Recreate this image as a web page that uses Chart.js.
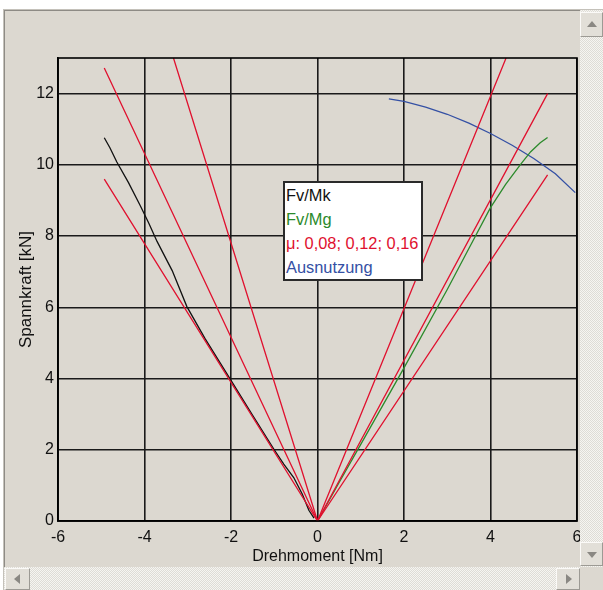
<!DOCTYPE html>
<html><head><meta charset="utf-8">
<script src="https://cdn.jsdelivr.net/npm/chart.js@4"></script>
<style>
html,body{margin:0;padding:0;background:#fff;width:603px;height:590px;overflow:hidden;font-family:"Liberation Sans",Arial,sans-serif;}
#win{position:absolute;left:3px;top:9px;width:610px;height:600px;background:#dcd8d0;border-left:1px solid #c4c1ba;border-top:1px solid #c4c1ba;box-shadow:inset 1px 1px 0 #8e8b85;box-sizing:border-box}
#cv{position:absolute;left:0;top:0}
#legend{position:absolute;left:283px;top:181px;width:140px;height:100px;box-sizing:border-box;border:2px solid #2a2a2a;background:#fff;font-size:16.4px;line-height:24px;padding:0 0 0 1px;white-space:nowrap}
.track{position:absolute;background:repeating-conic-gradient(#f6f5f1 0 25%,#dedcd6 0 50%) 0 0/2px 2px}
.btn{position:absolute;background:#e2dfd8;box-sizing:border-box;border:1px solid;border-color:#fbfaf8 #9c9a94 #9c9a94 #fbfaf8}
.tri{position:absolute;width:0;height:0}
</style></head>
<body>
<div id="win"></div>
<canvas id="cv" width="603" height="590"></canvas>
<div id="legend">
  <div style="color:#111">Fv/Mk</div>
  <div style="color:#2b8a2b">Fv/Mg</div>
  <div style="color:#e0102e">μ: 0,08; 0,12; 0,16</div>
  <div style="color:#3450a4">Ausnutzung</div>
</div>
<div class="track" style="left:580px;top:10px;width:23px;height:557px"></div>
<div class="btn" style="left:580px;top:12px;width:23px;height:25px"><div class="tri" style="left:6px;top:8px;border-left:5px solid transparent;border-right:5px solid transparent;border-bottom:6px solid #8a8883"></div></div>
<div class="btn" style="left:580px;top:542px;width:23px;height:24px"><div class="tri" style="left:6px;top:9px;border-left:5px solid transparent;border-right:5px solid transparent;border-top:6px solid #8a8883"></div></div>
<div class="track" style="left:4px;top:567px;width:576px;height:23px"></div>
<div class="btn" style="left:5px;top:568px;width:25px;height:22px"><div class="tri" style="left:8px;top:5px;border-top:5px solid transparent;border-bottom:5px solid transparent;border-right:6px solid #8a8883"></div></div>
<div class="btn" style="left:556px;top:568px;width:24px;height:22px"><div class="tri" style="left:9px;top:5px;border-top:5px solid transparent;border-bottom:5px solid transparent;border-left:6px solid #8a8883"></div></div>
<div style="position:absolute;left:580px;top:567px;width:23px;height:23px;background:#dcd8d0"></div>
<script>
// ---- data ----
const xTicks = [-6, -4, -2, 0, 2, 4, 6];
const yTicks = [0, 2, 4, 6, 8, 10, 12];
const xTitle = 'Drehmoment [Nm]';
const yTitle = 'Spannkraft [kN]';

// μ lines (V shapes): left = Mk side, right = Mg side
const mu008 = [[-3.33, 13.0], [0, 0], [4.36, 13.0]];
const mu012 = [[-4.93, 12.72], [0, 0], [5.32, 12.0]];
const mu016 = [[-4.93, 9.6], [0, 0], [5.32, 9.72]];

const fvMk = [[-4.93, 10.76], [-4.8, 10.48], [-4.64, 10.08], [-4.37, 9.5], [-4.1, 8.86], [-3.9, 8.36],
  [-3.71, 7.85], [-3.36, 7.03], [-3.02, 6.02], [-2.6, 5.12], [-2.0, 3.95], [-1.5, 2.97], [-1.0, 2.0],
  [-0.78, 1.6], [-0.55, 1.22], [-0.35, 0.75], [-0.2, 0.3], [-0.08, 0.08]];

const fvMg = [[0, 0], [0.5, 1.08], [1.0, 2.15], [2.0, 4.3], [3.0, 6.5], [3.5, 7.65], [4.0, 8.8],
  [4.35, 9.45], [4.7, 10.02], [4.93, 10.37], [5.15, 10.62], [5.32, 10.77]];

const ausnutzung = [[1.65, 11.85], [2.0, 11.78], [2.5, 11.62], [3.0, 11.42], [3.5, 11.17], [4.0, 10.88],
  [4.5, 10.55], [5.0, 10.18], [5.5, 9.75], [5.96, 9.22]];

const RED = '#e0102e', GREEN = '#2b8a2b', BLUE = '#3450a4', BLACK = '#111111';
const toPts = a => a.map(p => ({x: p[0], y: p[1]}));
const line = (d, c) => ({data: toPts(d), borderColor: c, borderWidth: 1.3, pointRadius: 0, showLine: true, fill: false, tension: 0});

const frame = {
  id: 'frame',
  afterDraw(chart) {
    const {ctx, chartArea: a} = chart;
    ctx.save();
    ctx.strokeStyle = '#000';
    ctx.lineWidth = 1.6;
    ctx.strokeRect(a.left, a.top, a.right - a.left, a.bottom - a.top);
    ctx.restore();
  }
};

new Chart(document.getElementById('cv'), {
  type: 'scatter',
  data: {
    datasets: [
      line(mu008, RED), line(mu012, RED), line(mu016, RED),
      line(fvMk, BLACK), line(fvMg, GREEN), line(ausnutzung, BLUE)
    ]
  },
  options: {
    responsive: false,
    animation: false,
    devicePixelRatio: 1,
    layout: {padding: {left: 0, top: 58, right: 26, bottom: 24}},
    plugins: {legend: {display: false}, tooltip: {enabled: false}},
    scales: {
      x: {
        type: 'linear', min: -6, max: 6,
        afterBuildTicks: s => { s.ticks = xTicks.map(v => ({value: v})); },
        afterFit: s => { s.height = 45; },
        grid: {color: '#1a1a1a', lineWidth: 1.6, drawTicks: false},
        border: {display: true, color: '#000', width: 1.6},
        ticks: {color: '#111', font: {family: 'Liberation Sans', size: 16}, padding: 7, maxRotation: 0, autoSkip: false},
        title: {display: true, text: xTitle, color: '#111', font: {family: 'Liberation Sans', size: 16}, padding: {top: 0, bottom: 0}}
      },
      y: {
        type: 'linear', min: 0, max: 13,
        afterBuildTicks: s => { s.ticks = yTicks.map(v => ({value: v})); },
        afterFit: s => { s.width = 58; },
        grid: {color: '#1a1a1a', lineWidth: 1.6, drawTicks: false},
        border: {display: true, color: '#000', width: 1.6},
        ticks: {color: '#111', font: {family: 'Liberation Sans', size: 16}, padding: 4, autoSkip: false},
        title: {display: true, text: yTitle, color: '#111', font: {family: 'Liberation Sans', size: 17}, padding: {top: 16, bottom: 0}}
      }
    }
  },
  plugins: [frame]
});
</script>
</body></html>
